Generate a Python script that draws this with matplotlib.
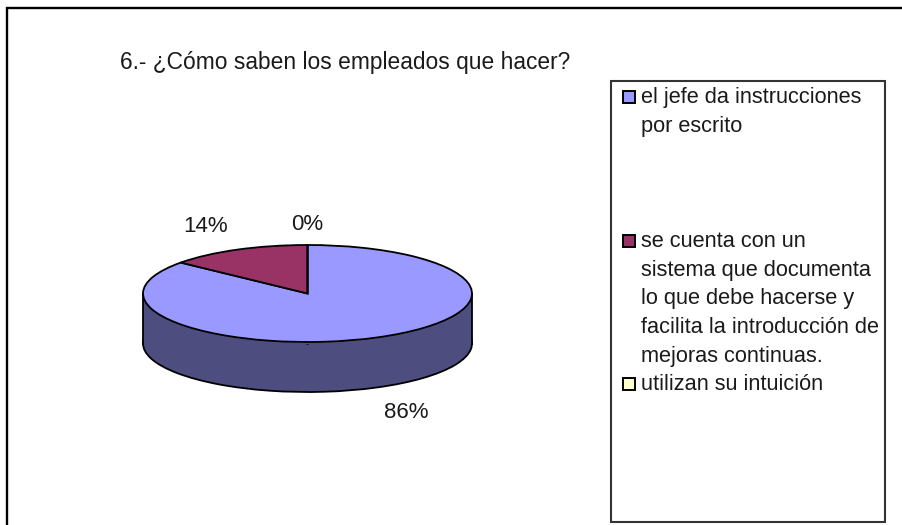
import matplotlib
matplotlib.use("Agg")
import matplotlib.pyplot as plt
from matplotlib.patches import Rectangle

plt.rcParams['font.family'] = ['Liberation Sans', 'DejaVu Sans']

title = "6.- ¿Cómo saben los empleados que hacer?"
values = [86, 14, 0]
pct_labels = ["86%", "14%", "0%"]
legend_lines = [
    ["el jefe da instrucciones", "por escrito"],
    ["se cuenta con un", "sistema que documenta", "lo que debe hacerse y",
     "facilita la introducción de", "mejoras continuas."],
    ["utilizan su intuición"],
]
top_colors = ["#9999FF", "#993366", "#FFFFCC"]
side_colors = ["#4D4D80", "#4D1A33", "#808066"]

W, H = 902, 525
fig = plt.figure(figsize=(W / 100, H / 100), dpi=100, facecolor="white")

# overlay in pixel coordinates
ov = fig.add_axes([0, 0, 1, 1], zorder=3)
ov.set_xlim(0, W); ov.set_ylim(H, 0); ov.axis("off"); ov.patch.set_alpha(0)

# pie axes: unit ellipse mapped to the pie's pixel box
cx, cy, a, b, depth = 307.5, 293.5, 164.5, 48.5, 50
ax = fig.add_axes([(cx - a) / W, 1 - (cy + b) / H, 2 * a / W, 2 * b / H], zorder=2)
d = depth / b
kw = dict(startangle=90, counterclock=False, radius=1)
LW = 1.3
ax.pie(values, colors=side_colors, center=(0, -d),
       wedgeprops=dict(edgecolor="black", linewidth=LW, clip_on=False), **kw)
ax.add_patch(Rectangle((-1, -d), 2, d, facecolor=side_colors[0], edgecolor="none",
                       clip_on=False, zorder=5))
ax.plot([-1, -1], [-d, 0], color="black", lw=LW, clip_on=False, zorder=6)
ax.plot([1, 1], [-d, 0], color="black", lw=LW, clip_on=False, zorder=6)
wedges, _ = ax.pie(values, colors=top_colors, center=(0, 0),
                   wedgeprops=dict(edgecolor="black", linewidth=LW, clip_on=False, zorder=7), **kw)
ax.set_aspect("auto")
ax.set_xlim(-1, 1); ax.set_ylim(-1, 1)
ax.axis("off")

# outer frame
ov.plot([6.5, 6.5, W], [H, 8, 8], color="black", lw=1.7, solid_capstyle="butt",
        solid_joinstyle="miter")

# title and percentage labels
TEXT = "#1a1a1a"
ov.text(120, 62, title, fontsize=16.4, color=TEXT, va="center", ha="left")
for lab, (x, y) in zip(pct_labels, [(406.5, 413), (206, 227), (307, 224)]):
    ov.text(x, y, lab, fontsize=16, color=TEXT, va="center", ha="center")

# legend
ov.add_patch(Rectangle((611, 80.5), 274, 441.5, facecolor="white", edgecolor="#333333", lw=1.5))
starts = [97, 241, 384]
for lines, y0, col in zip(legend_lines, starts, top_colors):
    ov.add_patch(Rectangle((623, y0 - 6), 12, 12, facecolor=col, edgecolor="black", lw=1.4))
    for i, line in enumerate(lines):
        ov.text(641, y0 + 0.5 + i * 28.7, line, fontsize=15.65, color=TEXT, va="center", ha="left")

fig.savefig("out.png", dpi=100, facecolor="white")
